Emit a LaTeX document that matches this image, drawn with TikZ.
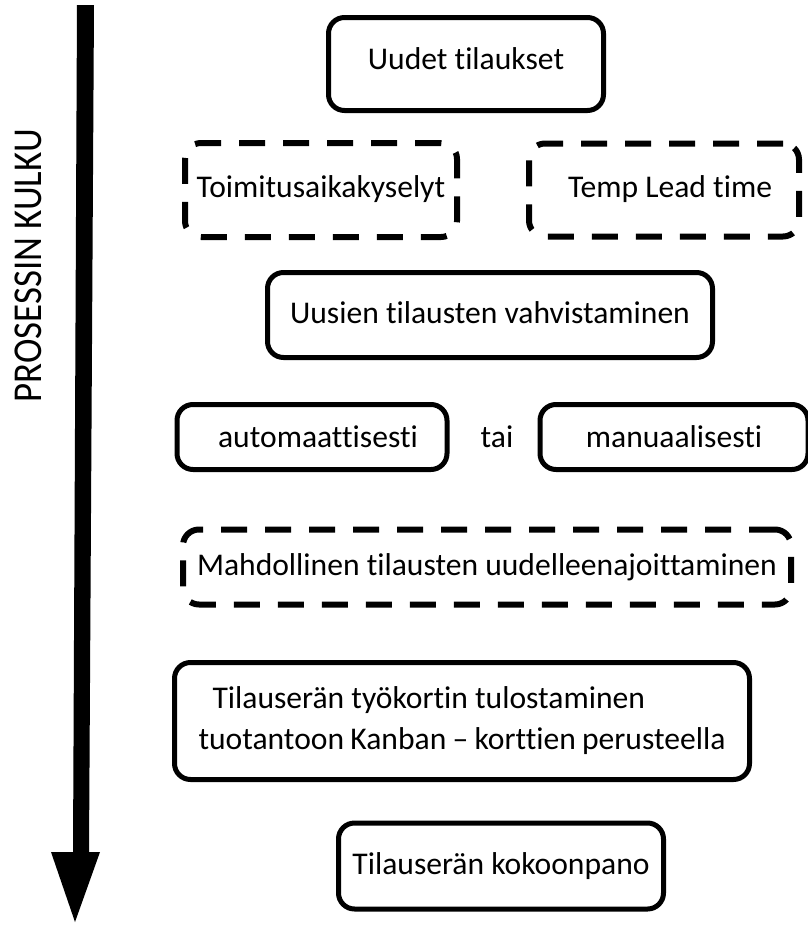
\documentclass[tikz,border=0pt]{standalone}
\usepackage{fontspec}
\setmainfont{Carlito}[Ligatures={TeX,NoCommon}]
\begin{document}
\begin{tikzpicture}[x=1pt,y=-1pt,
  stepbox/.style={draw=black, line width=5pt, rounded corners=16pt, inner sep=0pt, font=\fontsize{31.6}{40}\selectfont, align=center},
  optbox/.style={stepbox, line width=6pt, dash pattern=on 26pt off 18pt},
  plain/.style={inner sep=0pt, font=\fontsize{31.6}{40}\selectfont}]
\useasboundingbox (0,0) rectangle (807,926);

% process direction arrow
\fill[black] (77,5) -- (94,5) -- (89,852) -- (100,852) -- (75,922) -- (51,852) -- (73,852) -- cycle;
\node[plain, rotate=90, font=\fontsize{41}{48}\selectfont] (kulku) at (28,266) {\scalebox{0.9}[1]{PROSESSIN KULKU}};

% steps
\node[stepbox, minimum width=275pt, minimum height=93pt] (uudet) at (466,64) {\raisebox{10pt}{Uudet tilaukset}};
\node[optbox, minimum width=272pt, minimum height=94pt] (toim) at (321,190) {\raisebox{7pt}{Toimitusaikakyselyt}};
\node[optbox, minimum width=270pt, minimum height=93pt] (temp) at (664,190) {\raisebox{7pt}{\hspace{12pt}Temp Lead time}};
\node[stepbox, minimum width=445pt, minimum height=85pt] (vahv) at (490,315) {\raisebox{4pt}{Uusien tilausten vahvistaminen}};
\node[stepbox, minimum width=270pt, minimum height=65pt] (auto) at (312,437) {\hspace{12pt}automaattisesti};
\node[plain] (tai) at (497,437) {tai};
\node[stepbox, minimum width=268pt, minimum height=65pt] (manu) at (674,437) {manuaalisesti};
\node[optbox, minimum width=608pt, minimum height=75pt] (mahd) at (487,567) {Mahdollinen tilausten uudelleenajoittaminen};
\node[stepbox, align=left, font=\fontsize{31.6}{41}\selectfont, minimum width=575pt, minimum height=117pt] (tyok) at (462,721) {\raisebox{4pt}{\parbox{527pt}{\hspace*{14pt}Tilauserän työkortin tulostaminen\\ tuotantoon Kanban – korttien perusteella}}};
\node[stepbox, minimum width=325pt, minimum height=86pt] (kok) at (501,866) {\raisebox{5pt}{Tilauserän kokoonpano}};
\end{tikzpicture}
\end{document}
